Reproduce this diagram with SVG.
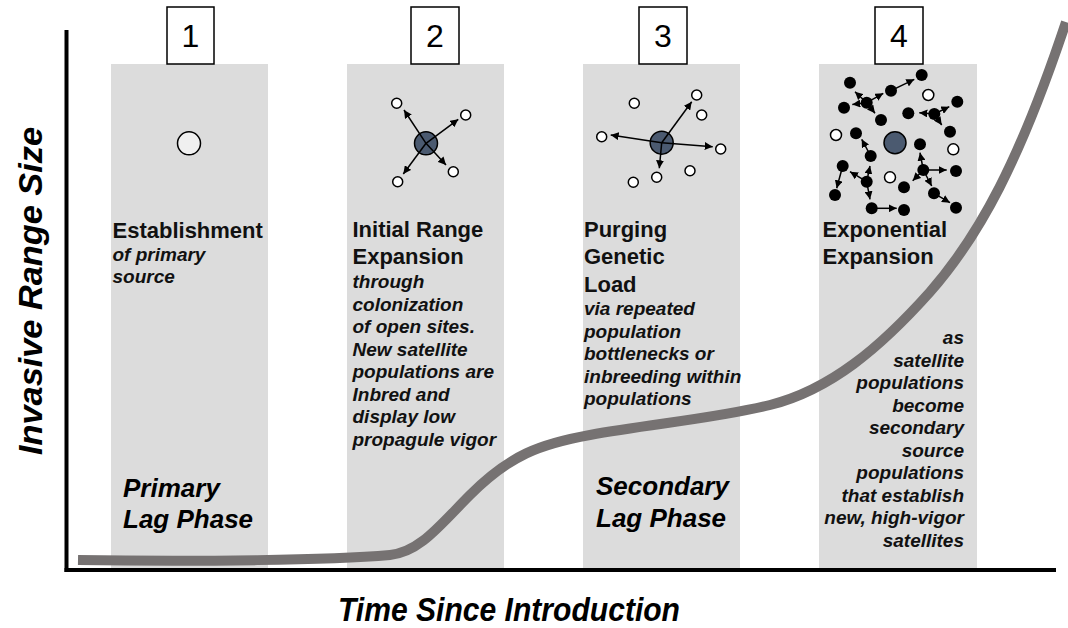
<svg xmlns="http://www.w3.org/2000/svg" width="1068" height="628" viewBox="0 0 1068 628">
  <defs>
    <style>
      .panel { fill: #dcdcdc; }
      .numbox { fill: #ffffff; stroke: #000; stroke-width: 1.5; }
      .num { font-family: "Liberation Sans", Arial, sans-serif; font-size: 32px; text-anchor: middle; fill: #000; }
      .title { font-family: "Liberation Sans", Arial, sans-serif; font-size: 22px; font-weight: bold; fill: #111; }
      .desc { font-family: "Liberation Sans", Arial, sans-serif; font-size: 19px; font-weight: bold; font-style: italic; fill: #111; }
      .lag { font-family: "Liberation Sans", Arial, sans-serif; font-size: 26px; font-weight: bold; font-style: italic; fill: #000; }
      .axislabel { font-family: "Liberation Sans", Arial, sans-serif; font-size: 34px; font-weight: bold; font-style: italic; fill: #000; text-anchor: middle; }
      .source { fill: #4b5a70; stroke: #000; stroke-width: 1.5; }
      .empty { fill: #ffffff; stroke: #000; stroke-width: 1.5; }
      .sat { fill: #000; }
      .arrow { stroke: #000; stroke-width: 1.5; fill: none; marker-end: url(#ah); }
    </style>
    <marker id="ah" viewBox="0 0 10 10" refX="10" refY="5" markerWidth="8" markerHeight="8" markerUnits="userSpaceOnUse" orient="auto">
      <path d="M0,0 L10,5 L0,10 z" fill="#000"/>
    </marker>
  </defs>

  <!-- stage backgrounds -->
  <g id="backgrounds">
    <rect class="panel" x="111" y="64" width="157" height="504"/>
    <rect class="panel" x="347" y="64" width="157" height="504"/>
    <rect class="panel" x="583" y="64" width="157" height="504"/>
    <rect class="panel" x="819" y="64" width="158" height="504"/>
  </g>

  <!-- range size curve -->
  <path id="range-curve" d="M78 560 C200 562 330 560 390 555 C420 552 440 525 470 495 C510 455 540 444 590 435 C650 424 720 418 770 405 C830 390 880 348 930 292 C980 235 1020 160 1066 22" fill="none" stroke="#767272" stroke-width="10"/>

  <!-- axes -->
  <g id="axes">
    <line x1="66.5" y1="30" x2="66.5" y2="572" stroke="#000" stroke-width="4"/>
    <line x1="64.5" y1="570" x2="1056" y2="570" stroke="#000" stroke-width="4"/>
    <text class="axislabel" transform="translate(42 291) rotate(-90)" textLength="328" lengthAdjust="spacingAndGlyphs">Invasive Range Size</text>
    <text class="axislabel" x="509" y="621" textLength="342" lengthAdjust="spacingAndGlyphs">Time Since Introduction</text>
  </g>

  <!-- stage 1 -->
  <g id="stage-1">
    <rect class="numbox" x="167" y="7" width="47" height="57"/>
    <text class="num" x="190.5" y="47">1</text>
    <circle cx="189" cy="143.3" r="11.5" fill="#f0f0f0" stroke="#000" stroke-width="1.5"/>
    <text class="title" x="112.5" y="238">Establishment</text>
    <text class="desc" x="112.5" y="260.5">of primary</text>
    <text class="desc" x="112.5" y="283">source</text>
    <text class="lag" x="123" y="497">Primary</text>
    <text class="lag" x="123" y="528">Lag Phase</text>
  </g>

  <!-- stage 2 -->
  <g id="stage-2">
    <rect class="numbox" x="411" y="7" width="48" height="57"/>
    <text class="num" x="435" y="47">2</text>
    <circle class="source" cx="426" cy="143.3" r="11.5"/>
    <circle class="empty" cx="396.7" cy="103.3" r="5"/>
    <circle class="empty" cx="465.7" cy="115" r="5"/>
    <circle class="empty" cx="453.3" cy="171.7" r="5"/>
    <circle class="empty" cx="397.7" cy="181.7" r="5"/>
    <text class="title" x="352.5" y="237">Initial Range</text>
    <text class="title" x="352.5" y="264">Expansion</text>
    <text class="desc" x="352.5" y="288">through</text>
    <text class="desc" x="352.5" y="310.5">colonization</text>
    <text class="desc" x="352.5" y="333">of open sites.</text>
    <text class="desc" x="352.5" y="355.5">New satellite</text>
    <text class="desc" x="352.5" y="378">populations are</text>
    <text class="desc" x="352.5" y="400.5">Inbred and</text>
    <text class="desc" x="352.5" y="423">display low</text>
    <text class="desc" x="352.5" y="445.5">propagule vigor</text>
  </g>

  <!-- stage 3 -->
  <g id="stage-3">
    <rect class="numbox" x="639" y="7" width="48" height="57"/>
    <text class="num" x="663" y="47">3</text>
    <circle class="source" cx="661.7" cy="142.7" r="11.5"/>
    <circle class="empty" cx="634.3" cy="103.3" r="5"/>
    <circle class="empty" cx="696.7" cy="95" r="5"/>
    <circle class="empty" cx="701.7" cy="115" r="5"/>
    <circle class="empty" cx="601.7" cy="136.7" r="5"/>
    <circle class="empty" cx="720.7" cy="149" r="5"/>
    <circle class="empty" cx="690" cy="170.7" r="5"/>
    <circle class="empty" cx="656.7" cy="177.3" r="5"/>
    <circle class="empty" cx="633.3" cy="182.3" r="5"/>
    <text class="title" x="584" y="236.5">Purging</text>
    <text class="title" x="584" y="264">Genetic</text>
    <text class="title" x="584" y="291.5">Load</text>
    <text class="desc" x="584" y="315">via repeated</text>
    <text class="desc" x="584" y="337.5">population</text>
    <text class="desc" x="584" y="360">bottlenecks or</text>
    <text class="desc" x="584" y="382.5">inbreeding within</text>
    <text class="desc" x="584" y="405">populations</text>
    <text class="lag" x="596" y="495">Secondary</text>
    <text class="lag" x="596" y="527">Lag Phase</text>
  </g>

  <!-- stage 4 -->
  <g id="stage-4">
    <rect class="numbox" x="875" y="7" width="48" height="57"/>
    <text class="num" x="899" y="47">4</text>
    <circle class="source" cx="895" cy="142.7" r="11"/>
    <g class="sat">
      <circle cx="850" cy="82.7" r="6"/>
      <circle cx="921.7" cy="75" r="6"/>
      <circle cx="891" cy="90.7" r="6"/>
      <circle cx="866.7" cy="102.7" r="6"/>
      <circle cx="844" cy="107.7" r="6"/>
      <circle cx="881" cy="120" r="6"/>
      <circle cx="908.3" cy="113.3" r="6"/>
      <circle cx="934.3" cy="114" r="6"/>
      <circle cx="957.3" cy="101.7" r="6"/>
      <circle cx="950" cy="131.7" r="6"/>
      <circle cx="856" cy="133.3" r="6"/>
      <circle cx="920" cy="144.3" r="6"/>
      <circle cx="870.7" cy="156" r="6"/>
      <circle cx="842.7" cy="166" r="6"/>
      <circle cx="866.7" cy="181.7" r="6"/>
      <circle cx="835" cy="195" r="6"/>
      <circle cx="871.7" cy="208.3" r="6"/>
      <circle cx="904" cy="210" r="6"/>
      <circle cx="923.3" cy="170" r="6"/>
      <circle cx="956" cy="171" r="6"/>
      <circle cx="904" cy="187.3" r="6"/>
      <circle cx="934" cy="193.3" r="6"/>
      <circle cx="956" cy="207.7" r="6"/>
    </g>
    <circle class="empty" cx="928.3" cy="95" r="5.5"/>
    <circle class="empty" cx="836" cy="135" r="5.5"/>
    <circle class="empty" cx="953.3" cy="149.3" r="5.5"/>
    <circle class="empty" cx="890" cy="177.3" r="5.5"/>
    <text class="title" x="822.5" y="237">Exponential</text>
    <text class="title" x="822.5" y="264">Expansion</text>
    <g class="desc" text-anchor="end">
      <text x="964" y="344">as</text>
      <text x="964" y="366.5">satellite</text>
      <text x="964" y="389">populations</text>
      <text x="964" y="411.5">become</text>
      <text x="964" y="434">secondary</text>
      <text x="964" y="456.5">source</text>
      <text x="964" y="479">populations</text>
      <text x="964" y="501.5">that establish</text>
      <text x="964" y="524">new, high-vigor</text>
      <text x="964" y="546.5">satellites</text>
    </g>
  </g>

  <!-- dispersal arrows -->
  <g id="connectors">
    <line class="arrow" x1="426" y1="143.3" x2="404" y2="110"/>
    <line class="arrow" x1="426" y1="143.3" x2="458.3" y2="119.3"/>
    <line class="arrow" x1="426" y1="143.3" x2="446" y2="165"/>
    <line class="arrow" x1="426" y1="143.3" x2="403.3" y2="174"/>

    <line class="arrow" x1="661.7" y1="142.7" x2="691.7" y2="101.7"/>
    <line class="arrow" x1="661.7" y1="142.7" x2="610.7" y2="135"/>
    <line class="arrow" x1="661.7" y1="142.7" x2="712.7" y2="146.7"/>
    <line class="arrow" x1="661.7" y1="142.7" x2="659.3" y2="168.3"/>

    <line class="arrow" x1="891" y1="90.7" x2="914.3" y2="79.3"/>
    <line class="arrow" x1="866.7" y1="102.7" x2="855" y2="91.7"/>
    <line class="arrow" x1="866.7" y1="102.7" x2="852.3" y2="104.5"/>
    <line class="arrow" x1="866.7" y1="102.7" x2="883.3" y2="93.3"/>
    <line class="arrow" x1="866.7" y1="102.7" x2="875" y2="113.3"/>
    <line class="arrow" x1="934.3" y1="114" x2="919.3" y2="112.7"/>
    <line class="arrow" x1="934.3" y1="114" x2="949.3" y2="106.7"/>
    <line class="arrow" x1="934.3" y1="114" x2="941.7" y2="125"/>
    <line class="arrow" x1="870.7" y1="156" x2="861.7" y2="139.3"/>
    <line class="arrow" x1="842.7" y1="166" x2="836.7" y2="188.3"/>
    <line class="arrow" x1="866.7" y1="181.7" x2="850" y2="171.7"/>
    <line class="arrow" x1="866.7" y1="181.7" x2="870" y2="166"/>
    <line class="arrow" x1="866.7" y1="181.7" x2="870" y2="199.3"/>
    <line class="arrow" x1="871.7" y1="208.3" x2="896.7" y2="208.3"/>
    <line class="arrow" x1="923.3" y1="170" x2="920" y2="152.7"/>
    <line class="arrow" x1="923.3" y1="170" x2="946.7" y2="170"/>
    <line class="arrow" x1="923.3" y1="170" x2="912.7" y2="180.7"/>
    <line class="arrow" x1="923.3" y1="170" x2="931.7" y2="186"/>
    <line class="arrow" x1="934" y1="193.3" x2="950" y2="202.7"/>
  </g>
</svg>
